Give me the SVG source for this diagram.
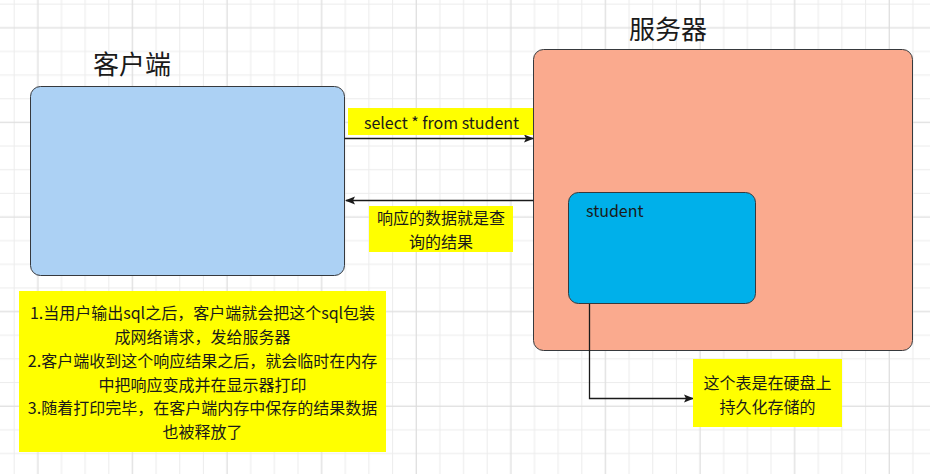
<svg xmlns="http://www.w3.org/2000/svg" width="930" height="474" viewBox="0 0 930 474">
<style>
text{font-family:"Noto Sans CJK SC","Noto Sans",sans-serif;fill:#1a1a1a}
.t16{font-size:16px}
.title{font-size:26px}
.mid{text-anchor:middle}
.box{stroke:#36393d;stroke-width:1}
.note{fill:#ffff00}
.edge{fill:none;stroke:#1a1a1a;stroke-width:1.3}
</style>
<defs>
<pattern id="grid" x="13.7" y="3.65" width="94.6" height="94.6" patternUnits="userSpaceOnUse">
<path d="M0.5 0V94.6M24.15 0V94.6M47.8 0V94.6M71.45 0V94.6M0 0.5H94.6M0 24.15H94.6M0 47.8H94.6M0 71.45H94.6" stroke="#ececec" stroke-width="1" fill="none"/>
<path d="M24.15 0V94.6M0 24.15H94.6" stroke="#dcdcdc" stroke-width="1" fill="none"/>
</pattern>
<marker id="arr" viewBox="0 0 10 10" refX="9" refY="5" markerWidth="10" markerHeight="10" markerUnits="userSpaceOnUse" orient="auto">
<path d="M0 1L10 5L0 9L2 5Z" fill="#1a1a1a"/>
</marker>
</defs>
<rect width="930" height="474" fill="#ffffff"/>
<rect width="930" height="474" fill="url(#grid)"/>

<g id="client">
<rect class="box" x="30.5" y="86.5" width="314" height="189" rx="10" fill="#acd1f4"/>
<text class="title mid" x="132" y="74">客户端</text>
</g>

<g id="server">
<rect class="box" x="533.5" y="49.5" width="379" height="301" rx="10" fill="#faaa8e"/>
<text class="title mid" x="668" y="39">服务器</text>
</g>

<g id="student">
<rect class="box" x="568.5" y="192.5" width="187" height="111" rx="10" fill="#00b0ea"/>
<text class="t16" x="586" y="217">student</text>
</g>

<g id="connectors">
<path class="edge" d="M344.5 138.5H533" marker-end="url(#arr)"/>
<path class="edge" d="M533.5 200.5H346" marker-end="url(#arr)"/>
<path class="edge" d="M589.5 304V398.5H693" marker-end="url(#arr)"/>
</g>

<g id="label-sql">
<rect class="note" x="348" y="108" width="185" height="27"/>
<text class="t16 mid" x="441.5" y="129">select * from student</text>
</g>

<g id="label-response">
<rect class="note" x="369" y="206" width="144" height="46"/>
<text class="t16 mid" x="441" y="224">响应的数据就是查</text>
<text class="t16 mid" x="441" y="248">询的结果</text>
</g>

<g id="notes">
<rect class="note" x="19" y="291" width="367" height="161"/>
<text class="t16 mid" x="202.5" y="319">1.当用户输出sql之后，客户端就会把这个sql包装</text>
<text class="t16 mid" x="202.5" y="343">成网络请求，发给服务器</text>
<text class="t16 mid" x="202.5" y="367">2.客户端收到这个响应结果之后，就会临时在内存</text>
<text class="t16 mid" x="202.5" y="391">中把响应变成并在显示器打印</text>
<text class="t16 mid" x="202.5" y="414">3.随着打印完毕，在客户端内存中保存的结果数据</text>
<text class="t16 mid" x="202.5" y="438">也被释放了</text>
</g>

<g id="disk-note">
<rect class="note" x="693" y="359" width="149" height="68"/>
<text class="t16 mid" x="767.5" y="389">这个表是在硬盘上</text>
<text class="t16 mid" x="767.5" y="413">持久化存储的</text>
</g>
</svg>
